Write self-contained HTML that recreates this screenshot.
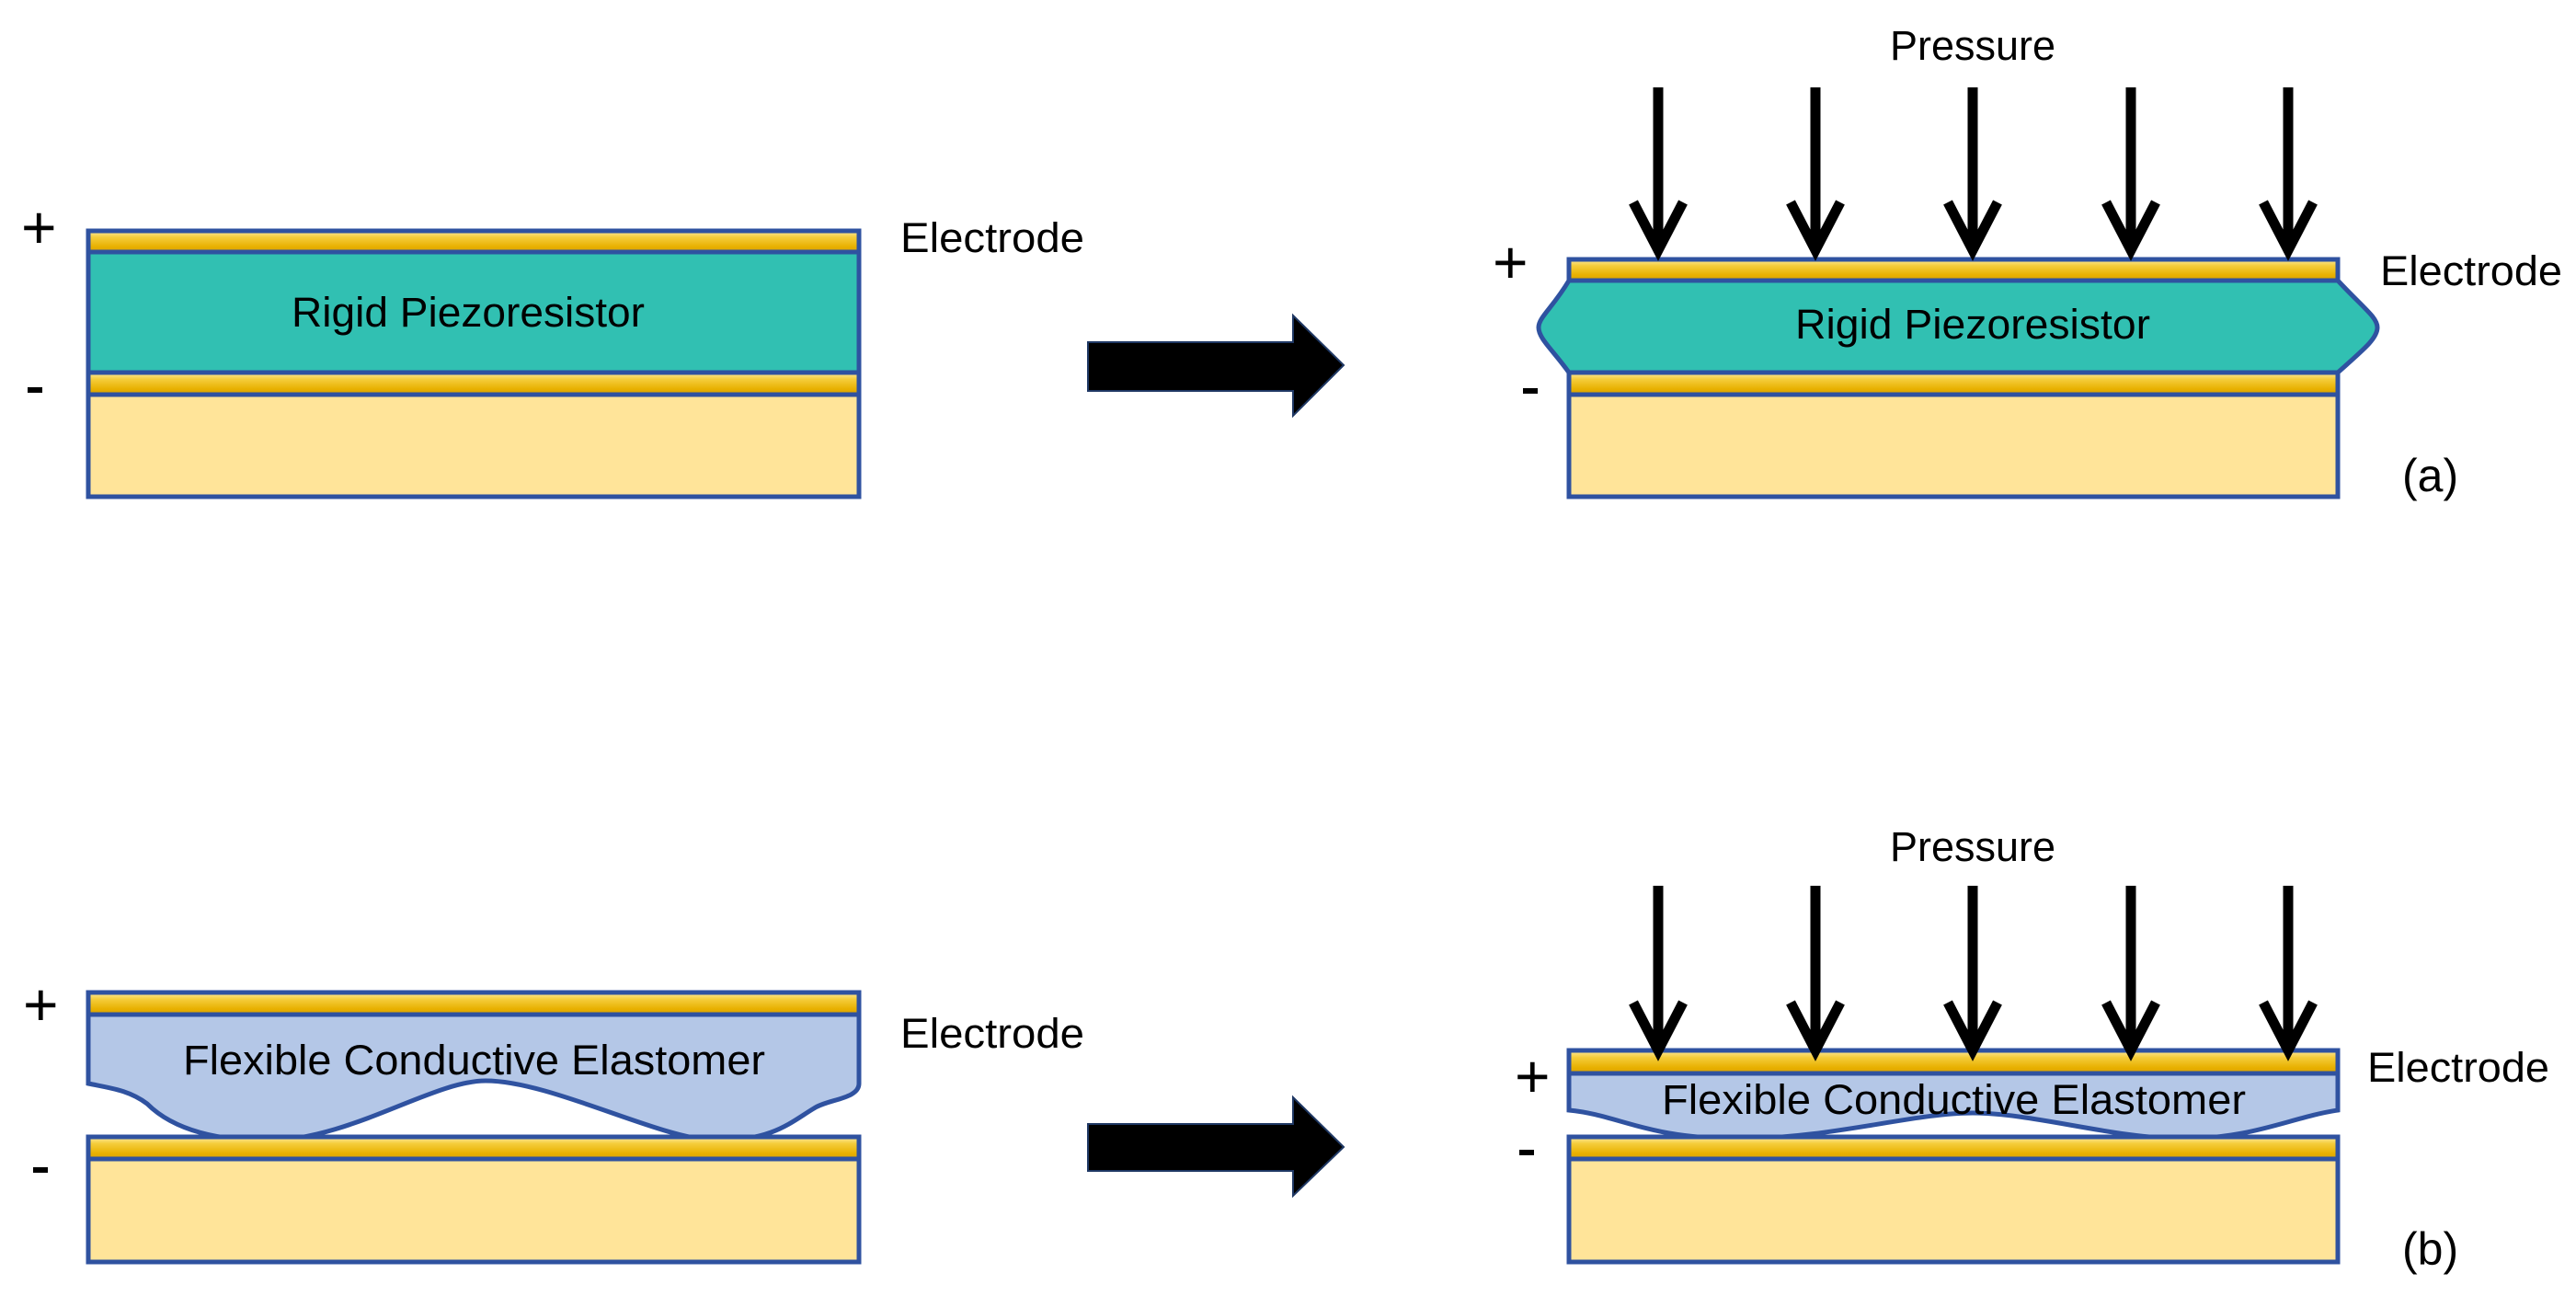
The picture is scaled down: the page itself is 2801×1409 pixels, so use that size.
<!DOCTYPE html>
<html><head><meta charset="utf-8"><style>html,body{margin:0;padding:0;background:#fff}svg{display:block}</style></head>
<body>
<svg width="2801" height="1409" viewBox="0 0 2801 1409" xmlns="http://www.w3.org/2000/svg" font-family="'Liberation Sans', sans-serif">
<defs>
<linearGradient id="g" x1="0" y1="0" x2="0" y2="1">
<stop offset="0" stop-color="#FCE9A0"/><stop offset="0.3" stop-color="#F5CD3C"/><stop offset="0.75" stop-color="#E8B000"/><stop offset="1" stop-color="#D9A200"/>
</linearGradient>
</defs>
<g stroke="#2F52A0" stroke-width="5">
<!-- (a) left -->
<rect x="96" y="251" width="838" height="23" fill="url(#g)"/>
<rect x="96" y="274" width="838" height="131" fill="#31C0B2"/>
<rect x="96" y="405" width="838" height="24" fill="url(#g)"/>
<rect x="96" y="429" width="838" height="111" fill="#FFE499"/>
<!-- (a) right -->
<path d="M1706 305 L2542 305 C2570 335 2585 345 2585 356 C2585 368 2570 380 2542 405 L1706 405 C1688 380 1673 368 1673 356 C1673 345 1688 335 1706 305 Z" fill="#31C0B2"/>
<rect x="1706" y="282" width="836" height="23" fill="url(#g)"/>
<rect x="1706" y="405" width="836" height="24" fill="url(#g)"/>
<rect x="1706" y="429" width="836" height="111" fill="#FFE499"/>
<!-- (b) left -->
<path d="M96 1103 L934 1103 L934 1178 C934 1195 900 1195 885 1205 C860 1220 840 1240 780 1240 C720 1240 600 1175 528 1175 C470 1175 380 1240 290 1240 C240 1240 190 1230 160 1200 C140 1185 120 1183 96 1178 Z" fill="#B4C7E7"/>
<rect x="96" y="1079" width="838" height="24" fill="url(#g)"/>
<rect x="96" y="1236" width="838" height="24" fill="url(#g)"/>
<rect x="96" y="1260" width="838" height="112" fill="#FFE499"/>
<!-- (b) right -->
<path d="M1706 1167 L2542 1167 L2542 1207 C2490 1215 2450 1238 2373 1238 C2300 1238 2210 1210 2145 1210 C2080 1210 1990 1238 1891 1238 C1790 1238 1760 1212 1706 1207 Z" fill="#B4C7E7"/>
<rect x="1706" y="1142" width="836" height="25" fill="url(#g)"/>
<rect x="1706" y="1236" width="836" height="24" fill="url(#g)"/>
<rect x="1706" y="1260" width="836" height="112" fill="#FFE499"/>
</g>
<!-- big arrows -->
<g fill="#000" stroke="#1F3864" stroke-width="2">
<path d="M1183 372 L1406 372 L1406 343 L1461 397 L1406 452 L1406 425 L1183 425 Z"/>
<path d="M1183 1222 L1406 1222 L1406 1193 L1461 1247 L1406 1300 L1406 1273 L1183 1273 Z"/>
</g>
<!-- pressure arrows -->
<g stroke="#000" stroke-width="11" fill="none" stroke-linecap="butt" stroke-linejoin="miter">
<path d="M1803 95 V268 M1776 220 L1803 272 L1830 220"/>
<path d="M1974 95 V268 M1947 220 L1974 272 L2001 220"/>
<path d="M2145 95 V268 M2118 220 L2145 272 L2172 220"/>
<path d="M2317 95 V268 M2290 220 L2317 272 L2344 220"/>
<path d="M2488 95 V268 M2461 220 L2488 272 L2515 220"/>
<path d="M1803 963 V1138 M1776 1090 L1803 1142 L1830 1090"/>
<path d="M1974 963 V1138 M1947 1090 L1974 1142 L2001 1090"/>
<path d="M2145 963 V1138 M2118 1090 L2145 1142 L2172 1090"/>
<path d="M2317 963 V1138 M2290 1090 L2317 1142 L2344 1090"/>
<path d="M2488 963 V1138 M2461 1090 L2488 1142 L2515 1090"/>
</g>
<g fill="#000" font-size="45">
<text x="317" y="355" textLength="384" lengthAdjust="spacingAndGlyphs">Rigid Piezoresistor</text>
<text x="1952" y="368" textLength="386" lengthAdjust="spacingAndGlyphs">Rigid Piezoresistor</text>
<text x="199" y="1168" textLength="633" lengthAdjust="spacingAndGlyphs">Flexible Conductive Elastomer</text>
<text x="1807" y="1211" textLength="635" lengthAdjust="spacingAndGlyphs">Flexible Conductive Elastomer</text>
<text x="979" y="274" textLength="200" lengthAdjust="spacingAndGlyphs">Electrode</text>
<text x="2588" y="310" textLength="198" lengthAdjust="spacingAndGlyphs">Electrode</text>
<text x="979" y="1139" textLength="200" lengthAdjust="spacingAndGlyphs">Electrode</text>
<text x="2574" y="1176" textLength="198" lengthAdjust="spacingAndGlyphs">Electrode</text>
<text x="2055" y="65" textLength="180" lengthAdjust="spacingAndGlyphs">Pressure</text>
<text x="2055" y="936" textLength="180" lengthAdjust="spacingAndGlyphs">Pressure</text>
<text x="2612" y="534" font-size="50">(a)</text>
<text x="2612" y="1375" font-size="50">(b)</text>
</g>
<g fill="#000" font-size="66">
<text x="23" y="270">+</text>
<text x="25" y="1115">+</text>
<text x="1623" y="308">+</text>
<text x="1647" y="1193">+</text>
<rect x="30" y="421" width="16" height="6"/>
<rect x="36" y="1269" width="16" height="6"/>
<rect x="1656" y="422" width="16" height="6"/>
<rect x="1652" y="1250" width="16" height="6"/>
</g>
</svg>
</body></html>
